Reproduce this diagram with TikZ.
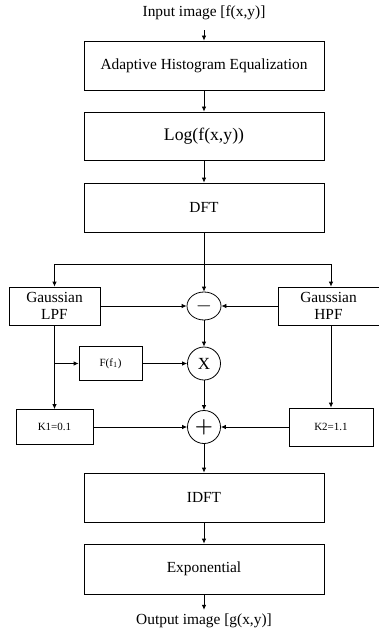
\documentclass[tikz,border=0pt]{standalone}
\usepackage{fontspec}
\setmainfont{Liberation Serif}
\usetikzlibrary{positioning,arrows.meta,shapes.geometric}

\begin{document}
\begin{tikzpicture}[
  x=1pt, y=-1pt,
  txt/.style={font=\fontsize{15.4}{17.5}\selectfont},
  box/.style={draw, line width=0.8pt, inner sep=0pt, align=center, txt},
  wide/.style={box, minimum width=240pt, minimum height=49pt},
  small/.style={box, font=\fontsize{11}{13}\selectfont},
  op/.style={draw, line width=0.8pt, circle, minimum size=33pt, inner sep=0pt},
  arr/.style={-{Latex[length=5pt,width=4.5pt]}, line width=0.8pt}
]
  \useasboundingbox (0,0) rectangle (378,631);

  % Main chain
  \node[txt, inner xsep=0pt, inner ysep=10pt] (input) at (204,13) {Input image [f(x,y)]};
  \node[wide] (ahe) at (204,65.5) {Adaptive Histogram Equalization};
  \node[wide, minimum height=48pt, font=\fontsize{17.7}{20}\selectfont] (logf) at (204,136) {Log(f(x,y))};
  \node[wide] (dft) at (204,207.5) {DFT};

  % Filter branches
  \node[box, minimum width=91pt, minimum height=38pt] (lpf) at (54.5,306) {Gaussian\\LPF};
  \node[box, minimum width=101pt, minimum height=38pt] (hpf) at (328.5,306) {Gaussian\\HPF};
  \node[draw, line width=0.8pt, ellipse, minimum width=34pt, minimum height=28pt, inner sep=0pt,
        font=\fontsize{20}{20}\selectfont] (diff) at (204,306) {$-$};
  \node[small, minimum width=63pt, minimum height=34pt] (filt) at (110.5,363.5) {F(f$_1$)};
  \node[op, font=\fontsize{17}{17}\selectfont] (mult) at (204,363.5) {X};
  \node[small, minimum width=77pt, minimum height=35pt] (k1) at (54.5,427) {K1=0.1};
  \node[op, font=\fontsize{22}{22}\selectfont\boldmath] (sum) at (204,427) {$+$};
  \node[small, minimum width=84pt, minimum height=38pt] (k2) at (331,427) {K2=1.1};

  % Back to the spatial domain
  \node[wide] (idft) at (204,497.5) {IDFT};
  \node[wide, minimum height=50pt] (expo) at (204,569) {Exponential};
  \node[txt, inner xsep=0pt, inner ysep=4pt] (output) at (204,621) {Output image [g(x,y)]};

  % Connectors
  \draw[arr] (input) -- (ahe);
  \draw[arr] (ahe) -- (logf);
  \draw[arr] (logf) -- (dft);
  \draw[arr] (dft) -- (diff);

  \coordinate (split) at (dft.south |- 0,264);
  \draw[arr] (split) -| (lpf.north);
  \draw[arr] (split) -| (k2.north |- hpf.north);

  \draw[arr] (lpf) -- (diff);
  \draw[arr] (hpf) -- (diff);
  \draw[arr] (diff) -- (mult);

  \draw[arr] (lpf.south) -- (k1.north);
  \coordinate (tap) at (lpf.south |- filt.west);
  \draw[arr] (tap) -- (filt);
  \draw[arr] (filt) -- (mult);

  \draw[arr] (hpf.south -| k2.north) -- (k2.north);
  \draw[arr] (mult) -- (sum);
  \draw[arr] (k1) -- (sum);
  \draw[arr] (k2) -- (sum);

  \draw[arr] (sum) -- (idft);
  \draw[arr] (idft) -- (expo);
  \draw[arr] (expo) -- (output);
\end{tikzpicture}
\end{document}
